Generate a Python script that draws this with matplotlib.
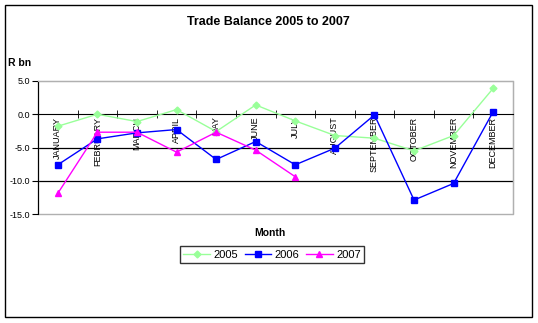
import matplotlib
matplotlib.use("Agg")
import matplotlib.pyplot as plt
from matplotlib.patches import Rectangle
import numpy as np

plt.rcParams['font.family'] = ['Liberation Sans', 'DejaVu Sans']

#==== data ====
months = ["JANUARY", "FEBRUARY", "MARCH", "APRIL", "MAY", "JUNE", "JULY",
          "AUGUST", "SEPTEMBER", "OCTOBER", "NOVEMBER", "DECEMBER"]
y2005 = [-1.8, 0.0, -1.1, 0.7, -2.6, 1.4, -1.0, -3.2, -3.6, -5.5, -3.2, 3.9]
y2006 = [-7.6, -3.7, -2.8, -2.3, -6.8, -4.1, -7.6, -5.1, -0.1, -12.9, -10.4, 0.4]
y2007 = [-11.9, -2.7, -2.7, -5.7, -2.7, -5.4, -9.4]
yticks = [5, 0, -5, -10, -15]

#==== plot ====
fig = plt.figure(figsize=(5.38, 3.23), dpi=100)
ax = fig.add_axes([38/538, 1-214/323, 475/538, 133/323])

x = np.arange(len(months))
l1, = ax.plot(x, y2005, color='#99ff99', marker='D', ms=3.5, lw=1, label='2005', zorder=3)
l2, = ax.plot(x, y2006, color='#0000ff', marker='s', ms=4.5, lw=1, label='2006', zorder=3)
l3, = ax.plot(x[:len(y2007)], y2007, color='#ff00ff', marker='^', ms=5, lw=1, label='2007', zorder=3)

ax.set_xlim(-0.5, 11.5)
ax.set_ylim(-15, 5)

# gridlines
for v in yticks:
    if v in (-5, -10):
        ax.axhline(v, color='black', lw=0.9, zorder=0)

# gray plot-area frame
for s in ['top', 'right']:
    ax.spines[s].set_color('#b0b0b0')
ax.add_patch(Rectangle((0, 0), 1, 1, transform=ax.transAxes, fill=False,
                       edgecolor='#b0b0b0', lw=1, zorder=0, clip_on=False))
ax.spines['left'].set_color('black')
ax.spines['bottom'].set_position(('data', 0))
ax.spines['bottom'].set_color('black')

ax.set_yticks(yticks)
ax.set_yticklabels(['%.1f' % v for v in yticks], fontsize=6.5)
ax.tick_params(axis='y', direction='out', length=4, pad=2)

ax.set_xticks(x)
ax.set_xticklabels([])
ax.tick_params(axis='x', which='major', length=0)
ax.set_xticks(np.arange(-0.5, 12, 1), minor=True)
ax.tick_params(axis='x', which='minor', direction='inout', length=6)

for i, m in enumerate(months):
    ax.text(i, -0.35, m, rotation=90, ha='center', va='top', fontsize=6.5, zorder=1)

fig.text(268/538, 1-22/323, 'Trade Balance 2005 to 2007', ha='center', va='center',
         fontsize=9, fontweight='bold')
fig.text(8/538, 1-63/323, 'R bn', ha='left', va='center', fontsize=7.5, fontweight='bold')
fig.text(270/538, 1-233/323, 'Month', ha='center', va='center', fontsize=7.5, fontweight='bold')

leg = fig.legend(handles=[l1, l2, l3], loc='center', bbox_to_anchor=(272/538, 1-254.5/323),
                 ncol=3, fontsize=8, frameon=True, fancybox=False, handlelength=2.4,
                 handletextpad=0.3, columnspacing=0.6, borderpad=0.3)
leg.get_frame().set_edgecolor('black')
leg.get_frame().set_linewidth(1)

fig.add_artist(Rectangle((5/538, 1-317/323), 527/538, 312/323, transform=fig.transFigure,
                         fill=False, edgecolor='black', lw=1))

fig.savefig('out.png', dpi=100)
